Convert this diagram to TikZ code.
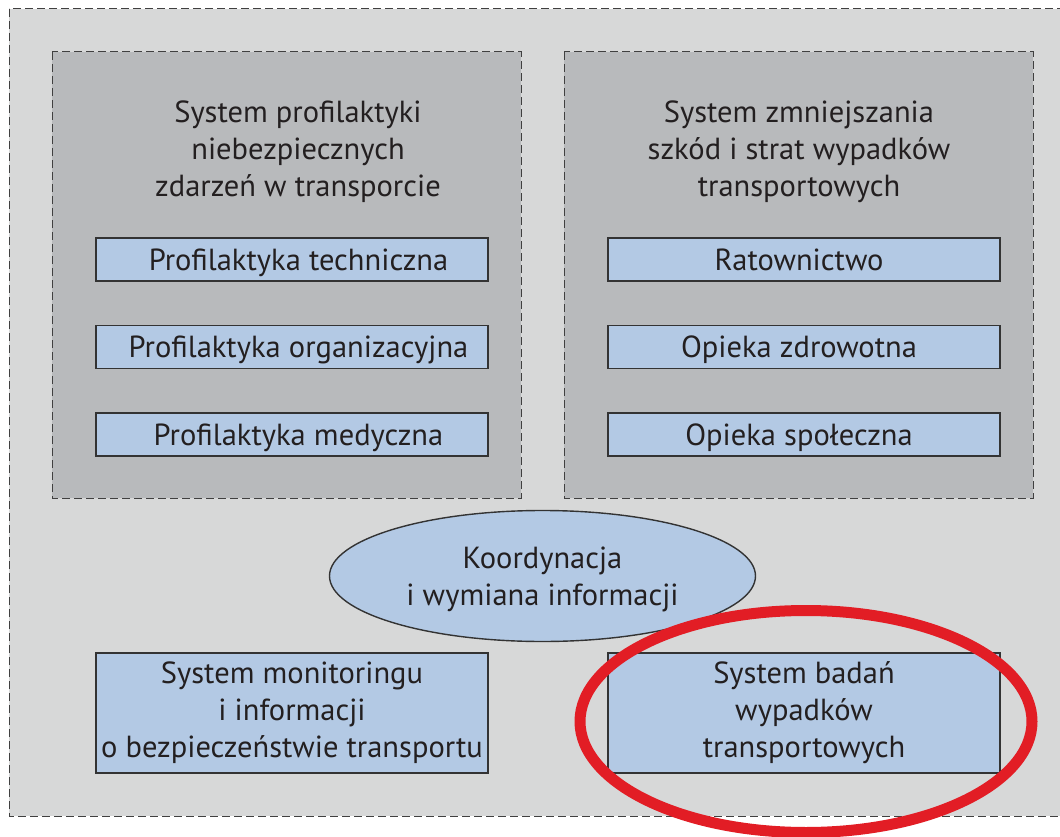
\documentclass[tikz,border=0pt]{standalone}
\usepackage{fontspec}
\setmainfont{PT Sans}
\usetikzlibrary{shapes.geometric,calc}
\definecolor{outerfill}{HTML}{D7D8D8}
\definecolor{innerfill}{HTML}{B8BABC}
\definecolor{bluefill}{HTML}{B3C9E4}
\definecolor{txt}{HTML}{231F20}
\definecolor{ringred}{HTML}{E21D25}
\tikzset{
  x=1pt,y=-1pt,
  every node/.style={text=txt,font=\fontsize{30.5}{37}\selectfont,align=center},
  dashbox/.style={draw=black!75,line width=1pt,dash pattern=on 8pt off 4pt},
  bluebox/.style={draw=black!80,line width=1.4pt,fill=bluefill,minimum width=392pt,inner sep=0pt},
  lbl/.style={yshift=-3pt},
}
\begin{document}
\begin{tikzpicture}
\useasboundingbox (0,0) rectangle (1060,837);
\clip (0,0) rectangle (1060,837);
\fill[white] (0,0) rectangle (1060,837);
% outer region
\filldraw[fill=outerfill,dashbox] (9,9) rectangle (1080,816);
% inner groups
\filldraw[fill=innerfill,dashbox] (52,52) rectangle (521,498);
\filldraw[fill=innerfill,dashbox] (564,52) rectangle (1033,498);
\node[lbl] (t1) at (298,149) {System profilaktyki\\niebezpiecznych\\zdarzeń w transporcie};
\node[lbl] (t2) at (799,149) {System zmniejszania\\szkód i strat wypadków\\transportowych};
% left boxes
\node[bluebox,minimum height=43pt] (l1) at (292,259.5) {};
\node[lbl] at ($(l1.center)+(6.5,0)$) {Profilaktyka techniczna};
\node[bluebox,minimum height=43pt] (l2) at (292,347) {};
\node[lbl] at ($(l2.center)+(6.5,0)$) {Profilaktyka organizacyjna};
\node[bluebox,minimum height=43pt] (l3) at (292,434.5) {};
\node[lbl] at ($(l3.center)+(6.5,0)$) {Profilaktyka medyczna};
% right boxes
\node[bluebox,minimum height=43pt] (r1) at (804,259.5) {};
\node[lbl] at ($(r1.center)+(-5,0)$) {Ratownictwo\vphantom{y}};
\node[bluebox,minimum height=43pt] (r2) at (804,347) {};
\node[lbl] at ($(r2.center)+(-5,0)$) {Opieka zdrowotna};
\node[bluebox,minimum height=43pt] (r3) at (804,434.5) {};
\node[lbl] at ($(r3.center)+(-5,0)$) {Opieka społeczna};
% ellipse
\node[ellipse,draw=black!80,line width=1.4pt,fill=bluefill,minimum width=426pt,minimum height=131pt,inner sep=0pt] (k) at (542.5,576) {};
\node[lbl] at (k.center) {Koordynacja\\i wymiana informacji};
% bottom boxes
\node[bluebox,minimum height=120pt] (b1) at (292,713) {System monitoringu\\i informacji\\o bezpieczeństwie transportu};
\node[bluebox,minimum height=120pt] (b2) at (804,713) {System badań\\wypadków\\transportowych};
% red ring
\draw[ringred,line width=11pt] (806,721.5) ellipse [x radius=226,y radius=111];
\end{tikzpicture}
\end{document}
